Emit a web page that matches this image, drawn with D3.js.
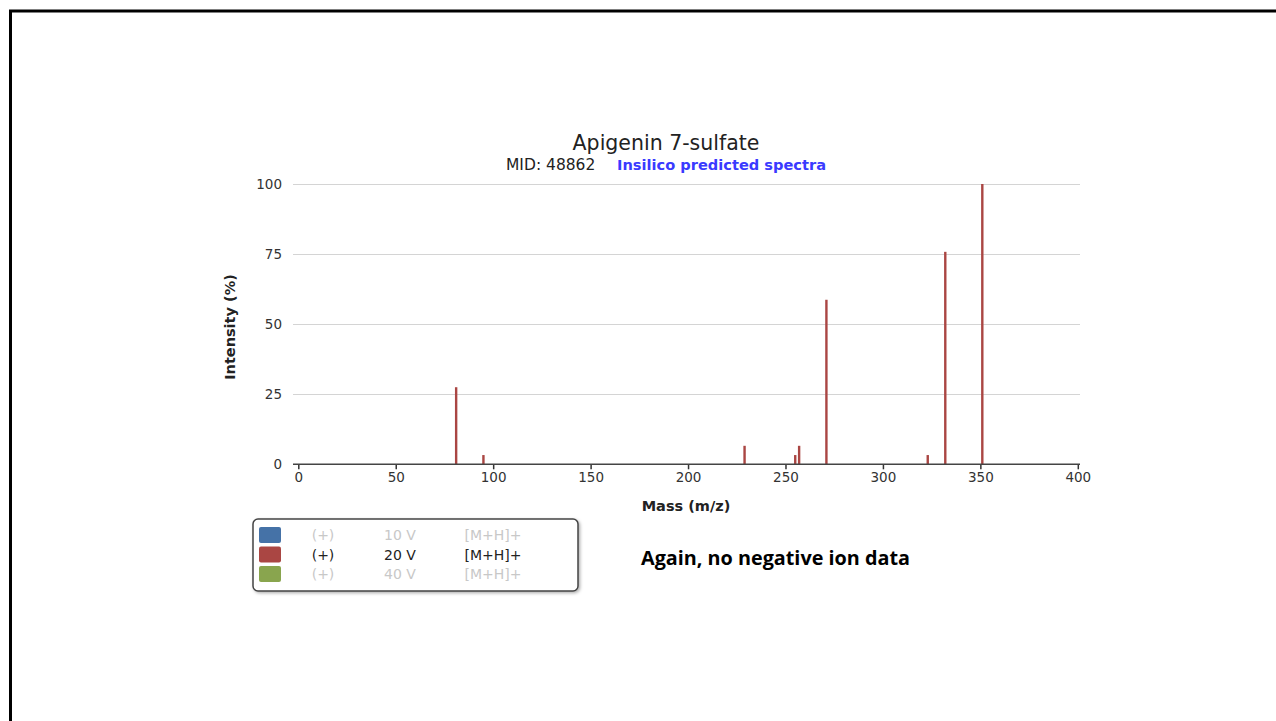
<!DOCTYPE html>
<html>
<head>
<meta charset="utf-8">
<script src="https://cdn.jsdelivr.net/npm/d3@7"></script>
<style>
  body { margin: 0; background: #fff; }
  svg { display: block; }
</style>
</head>
<body>
<div id="chart"></div>
<script>
// peaks
const masses = [81, 95, 229, 255, 257, 271, 323, 332, 351];
const intensities = [27.5, 3.3, 6.6, 3.3, 6.6, 58.7, 3.3, 75.8, 100];
const xTicks = [0, 50, 100, 150, 200, 250, 300, 350, 400];
const yTicks = [0, 25, 50, 75, 100];
const legendColors = ["#4572A7", "#AA4643", "#89A54E"];
const legendMode = ["(+)", "(+)", "(+)"];
const legendVolts = ["10 V", "20 V", "40 V"];
const legendAdduct = ["[M+H]+", "[M+H]+", "[M+H]+"];
const legendActive = [false, true, false];

const W = 1276, H = 721;
const font = "'DejaVu Sans', sans-serif";

const svg = d3.select("#chart").append("svg")
    .attr("width", W)
    .attr("height", H);

// slide frame
svg.append("rect")
    .attr("x", 10.5).attr("y", 11)
    .attr("width", W + 20).attr("height", H + 20)
    .attr("fill", "none")
    .attr("stroke", "#000")
    .attr("stroke-width", 3);

const x = d3.scaleLinear().domain([0, 400]).range([298.3, 1077.8]);
const y = d3.scaleLinear().domain([0, 100]).range([464.3, 184]);
const plotLeft = 293, plotRight = 1080;

// grid lines
svg.append("g")
  .selectAll("line")
  .data(yTicks.filter(d => d > 0))
  .enter().append("line")
    .attr("x1", plotLeft).attr("x2", plotRight)
    .attr("y1", d => Math.round(y(d)) + 0.5)
    .attr("y2", d => Math.round(y(d)) + 0.5)
    .attr("stroke", "#d4d4d4")
    .attr("stroke-width", 1.2);

// y tick labels
svg.append("g")
  .selectAll("text")
  .data(yTicks)
  .enter().append("text")
    .attr("x", 282)
    .attr("y", d => y(d) + 5)
    .attr("text-anchor", "end")
    .style("font", "13.5px " + font)
    .attr("fill", "#333")
    .text(d => d);

// peaks
svg.append("g")
  .selectAll("rect")
  .data(masses.map((m, i) => ({ m: m, v: intensities[i] })))
  .enter().append("rect")
    .attr("x", d => x(d.m) - 1.2)
    .attr("width", 2.4)
    .attr("y", d => y(d.v))
    .attr("height", d => y(0) - y(d.v))
    .attr("fill", "#AA4643");

// x axis
const xAxis = svg.append("g")
    .attr("transform", "translate(0," + y(0) + ")")
    .call(d3.axisBottom(x).tickValues(xTicks).tickSize(5).tickSizeOuter(0).tickPadding(3));
xAxis.select(".domain").remove();
xAxis.append("line")
    .attr("x1", plotLeft).attr("x2", plotRight)
    .attr("stroke", "#444").attr("stroke-width", 1.6);
xAxis.selectAll(".tick line").attr("stroke", "#333").attr("stroke-width", 1.5);
xAxis.selectAll(".tick text")
    .style("font", "13.5px " + font)
    .attr("fill", "#333");

// axis titles
svg.append("text")
    .attr("x", 686).attr("y", 511)
    .attr("text-anchor", "middle")
    .style("font", "bold 14.5px " + font)
    .attr("fill", "#222")
    .text("Mass (m/z)");

svg.append("text")
    .attr("transform", "translate(235,327) rotate(-90)")
    .attr("text-anchor", "middle")
    .style("font", "bold 14.5px " + font)
    .attr("fill", "#222")
    .text("Intensity (%)");

// titles
svg.append("text")
    .attr("x", 666).attr("y", 150)
    .attr("text-anchor", "middle")
    .style("font", "20.5px " + font)
    .attr("fill", "#222")
    .text("Apigenin 7-sulfate");

svg.append("text")
    .attr("x", 506).attr("y", 170)
    .style("font", "15.5px " + font)
    .attr("fill", "#222")
    .text("MID: 48862");

svg.append("text")
    .attr("x", 617).attr("y", 170)
    .style("font", "bold 14.6px " + font)
    .attr("fill", "#3a3aff")
    .text("Insilico predicted spectra");

// legend
const defs = svg.append("defs");
const filt = defs.append("filter").attr("id", "shadow")
    .attr("x", "-5%").attr("y", "-10%").attr("width", "115%").attr("height", "130%");
filt.append("feDropShadow")
    .attr("dx", 1.5).attr("dy", 1.5).attr("stdDeviation", 1.5)
    .attr("flood-color", "#000").attr("flood-opacity", 0.3);

const legend = svg.append("g").attr("transform", "translate(253,519)");
legend.append("rect")
    .attr("width", 325).attr("height", 72)
    .attr("rx", 5).attr("ry", 5)
    .attr("fill", "#fff")
    .attr("stroke", "#444")
    .attr("stroke-width", 1.5)
    .attr("filter", "url(#shadow)");

const rows = legend.selectAll("g.row")
  .data(legendColors.map((c, i) => i))
  .enter().append("g")
    .attr("class", "row")
    .attr("transform", i => "translate(0," + (16 + i * 19.5) + ")");

rows.append("rect")
    .attr("x", 6).attr("y", -8)
    .attr("width", 22).attr("height", 16)
    .attr("rx", 2)
    .attr("fill", i => legendColors[i]);

const rowColor = i => legendActive[i] ? "#222" : "#c8c8c8";
rows.append("text")
    .attr("x", 70).attr("y", 5).attr("text-anchor", "middle")
    .style("font", "14px " + font).attr("fill", rowColor)
    .text(i => legendMode[i]);
rows.append("text")
    .attr("x", 147).attr("y", 5).attr("text-anchor", "middle")
    .style("font", "14px " + font).attr("fill", rowColor)
    .text(i => legendVolts[i]);
rows.append("text")
    .attr("x", 240).attr("y", 5).attr("text-anchor", "middle")
    .style("font", "14px " + font).attr("fill", rowColor)
    .text(i => legendAdduct[i]);

// note
svg.append("text")
    .attr("x", 641).attr("y", 565)
    .style("font", "bold 19.8px 'Open Sans', sans-serif")
    .attr("fill", "#000")
    .text("Again, no negative ion data");
</script>
</body>
</html>
